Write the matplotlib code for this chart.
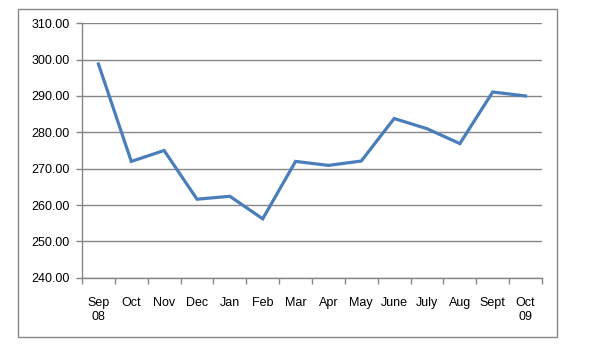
import matplotlib.pyplot as plt
from matplotlib import patches
from matplotlib.ticker import FormatStrFormatter
import numpy as np

months = ['Sep\n08', 'Oct', 'Nov', 'Dec', 'Jan', 'Feb', 'Mar', 'Apr',
          'May', 'June', 'July', 'Aug', 'Sept', 'Oct\n09']
values = [298.8, 272.0, 275.0, 261.6, 262.4, 256.2, 272.0, 270.9,
          272.1, 283.8, 281.0, 276.9, 291.1, 290.0]

plt.rcParams['font.family'] = 'Liberation Sans'
grey = '#868686'

fig = plt.figure(figsize=(5.95, 3.63), dpi=100)
fig.patches.append(patches.Rectangle((18 / 595, 1 - 337 / 363), 539 / 595, 328 / 363,
                                     transform=fig.transFigure, fill=False,
                                     edgecolor=grey, linewidth=1.0))
ax = fig.add_axes([82 / 595, 1 - 277.7 / 363, 460 / 595, 254.4 / 363])

x = np.arange(len(months))
ax.plot(x, values, color='#4A7EBB', linewidth=2.3, solid_joinstyle='miter', zorder=3)

ax.set_ylim(240, 310)
ax.set_yticks(np.arange(240, 311, 10))
ax.yaxis.set_major_formatter(FormatStrFormatter('%.2f'))
ax.grid(axis='y', color=grey, linewidth=1.0)
ax.set_axisbelow(True)

ax.set_xlim(-0.5, len(months) - 0.5)
ax.set_xticks(x)
ax.set_xticklabels(months)
ax.set_xticks(np.arange(-0.5, len(months), 1), minor=True)
ax.tick_params(axis='x', which='major', length=0, pad=14, labelsize=9, colors='black')
ax.tick_params(axis='x', which='minor', length=4, width=1, color=grey)
ax.tick_params(axis='y', length=4, width=1, color=grey, pad=5, labelsize=9)

for s in ['top', 'right']:
    ax.spines[s].set_visible(False)
for s in ['left', 'bottom']:
    ax.spines[s].set_color(grey)
    ax.spines[s].set_linewidth(1.0)

fig.savefig('out.png', dpi=100)
